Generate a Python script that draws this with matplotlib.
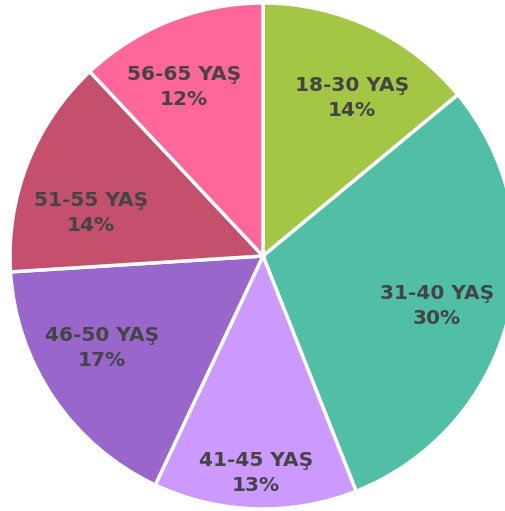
import numpy as np
import matplotlib
matplotlib.use("Agg")
import matplotlib.pyplot as plt

groups = ["18-30 YAŞ", "31-40 YAŞ", "41-45 YAŞ", "46-50 YAŞ", "51-55 YAŞ", "56-65 YAŞ"]
shares = [14, 30, 13, 17, 14, 12]
colors = ["#a3c644", "#50bfa5", "#cc99ff", "#9966cc", "#c5506e", "#ff6699"]
# how far out each label sits (fraction of radius) and a small angle nudge (deg)
label_r = [0.717, 0.716, 0.858, 0.733, 0.70, 0.737]
label_nudge = [-4.2, -1.6, 0, -4.5, 7.5, 3.5]

fig = plt.figure(figsize=(5.06, 5.11), dpi=100)
ax = fig.add_axes([0, 0, 1, 1])

wedges, _ = ax.pie(
    shares, colors=colors, startangle=90, counterclock=False, radius=1.0,
    wedgeprops=dict(edgecolor="white", linewidth=2.5),
)

for w, g, s, lr, dn in zip(wedges, groups, shares, label_r, label_nudge):
    mid = np.deg2rad((w.theta1 + w.theta2) / 2 + dn)
    ax.text(lr * np.cos(mid), lr * np.sin(mid), f"{g}\n{s}%",
            ha="center", va="center", fontsize=14.5, fontweight="bold",
            color="#444444", linespacing=1.4)

r = 253
ax.set_xlim(-263 / r, (506 - 263) / r)
ax.set_ylim(-255 / r, 256 / r)
ax.set_aspect("equal")
ax.axis("off")

fig.savefig("out.png", dpi=100)
